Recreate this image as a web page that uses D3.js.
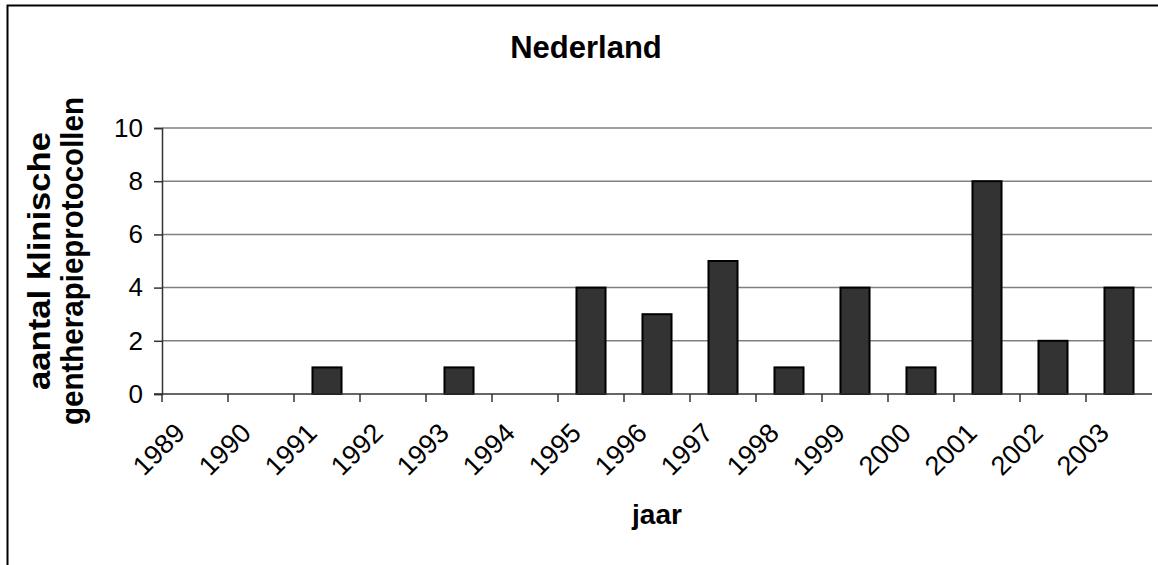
<!DOCTYPE html>
<html>
<head>
<meta charset="utf-8">
<script src="https://cdn.jsdelivr.net/npm/d3@7/dist/d3.min.js"></script>
<style>
  html, body { margin: 0; padding: 0; background: #fff; }
  svg { display: block; }
  text { font-family: Arial, "Liberation Sans", sans-serif; fill: #000; }
</style>
</head>
<body>
<svg id="chart" width="1158" height="565"></svg>
<script>
// Clinical gene therapy protocols in the Netherlands per year
const years = ["1989", "1990", "1991", "1992", "1993", "1994", "1995", "1996",
               "1997", "1998", "1999", "2000", "2001", "2002", "2003"];
const protocols = [0, 0, 1, 0, 1, 0, 4, 3, 5, 1, 4, 1, 8, 2, 4];
const yTicks = [0, 2, 4, 6, 8, 10];
const titleText = "Nederland";
const xTitle = "jaar";
const yTitleLines = ["aantal klinische", "gentherapieprotocollen"];

const svg = d3.select("#chart");
const W = 1158, H = 565;
const plot = { left: 162, right: 1152, top: 128, bottom: 394 };

// outer chart frame (top and left edges)
svg.append("path")
  .attr("d", `M7.5,${H} V5.5 H${W}`)
  .attr("fill", "none")
  .attr("stroke", "#000")
  .attr("stroke-width", 2);

const x = d3.scaleBand().domain(years).range([plot.left, plot.right]).paddingInner(0.56).paddingOuter(0.28);
const xCat = d3.scaleBand().domain(years).range([plot.left, plot.right]);
const y = d3.scaleLinear().domain([0, 10]).range([plot.bottom, plot.top]);

// horizontal gridlines
svg.append("g")
  .selectAll("line")
  .data(yTicks.filter(d => d > 0))
  .join("line")
  .attr("x1", plot.left).attr("x2", plot.right)
  .attr("y1", d => y(d)).attr("y2", d => y(d))
  .attr("stroke", "#808080").attr("stroke-width", 1.5);

// bars
svg.append("g")
  .selectAll("rect")
  .data(years.map((yr, i) => ({ yr, v: protocols[i] })).filter(d => d.v > 0))
  .join("rect")
  .attr("x", d => x(d.yr))
  .attr("width", x.bandwidth())
  .attr("y", d => y(d.v))
  .attr("height", d => y(0) - y(d.v))
  .attr("fill", "#333333")
  .attr("stroke", "#000")
  .attr("stroke-width", 2);

// y axis
const yAxis = svg.append("g")
  .attr("transform", `translate(${plot.left},0)`)
  .call(d3.axisLeft(y).tickValues(yTicks).tickSize(8).tickPadding(11).tickFormat(d3.format("d")));
yAxis.select(".domain").attr("stroke", "#333").attr("stroke-width", 1.5);
yAxis.selectAll(".tick line").attr("stroke", "#333").attr("stroke-width", 1.5);
yAxis.selectAll(".tick text").style("font-size", "26px").attr("font-family", null);

// x axis: ticks on category boundaries
const xAxisG = svg.append("g").attr("transform", `translate(0,${plot.bottom})`);
xAxisG.append("line")
  .attr("x1", plot.left - 8).attr("x2", plot.right)
  .attr("stroke", "#333").attr("stroke-width", 1.5);
xAxisG.selectAll("line.tick")
  .data(years)
  .join("line")
  .attr("class", "tick")
  .attr("x1", d => xCat(d)).attr("x2", d => xCat(d))
  .attr("y1", 0).attr("y2", 8)
  .attr("stroke", "#333").attr("stroke-width", 1.5);
xAxisG.selectAll("text")
  .data(years)
  .join("text")
  .attr("transform", d => `translate(${xCat(d) + xCat.bandwidth() / 2 - 22},${27}) rotate(-45)`)
  .attr("text-anchor", "end")
  .attr("dy", "0.71em")
  .style("font-size", "27px")
  .text(d => d);

// title
svg.append("text")
  .attr("x", 586).attr("y", 58)
  .attr("text-anchor", "middle")
  .style("font-size", "31px").style("font-weight", "bold")
  .text(titleText);

// x axis title
svg.append("text")
  .attr("x", (plot.left + plot.right) / 2).attr("y", 524)
  .attr("text-anchor", "middle")
  .style("font-size", "28px").style("font-weight", "bold")
  .text(xTitle);

// y axis title (two lines, rotated)
const yTitleLen = [258, 328];
const yt = svg.append("text")
  .attr("transform", `translate(50,${(plot.top + plot.bottom) / 2}) rotate(-90)`)
  .attr("text-anchor", "middle")
  .style("font-size", "31px").style("font-weight", "bold");
yt.selectAll("tspan")
  .data(yTitleLines)
  .join("tspan")
  .attr("x", 0)
  .attr("dy", (d, i) => i === 0 ? 0 : 33)
  .attr("textLength", (d, i) => yTitleLen[i])
  .attr("lengthAdjust", "spacingAndGlyphs")
  .text(d => d);
</script>
</body>
</html>
